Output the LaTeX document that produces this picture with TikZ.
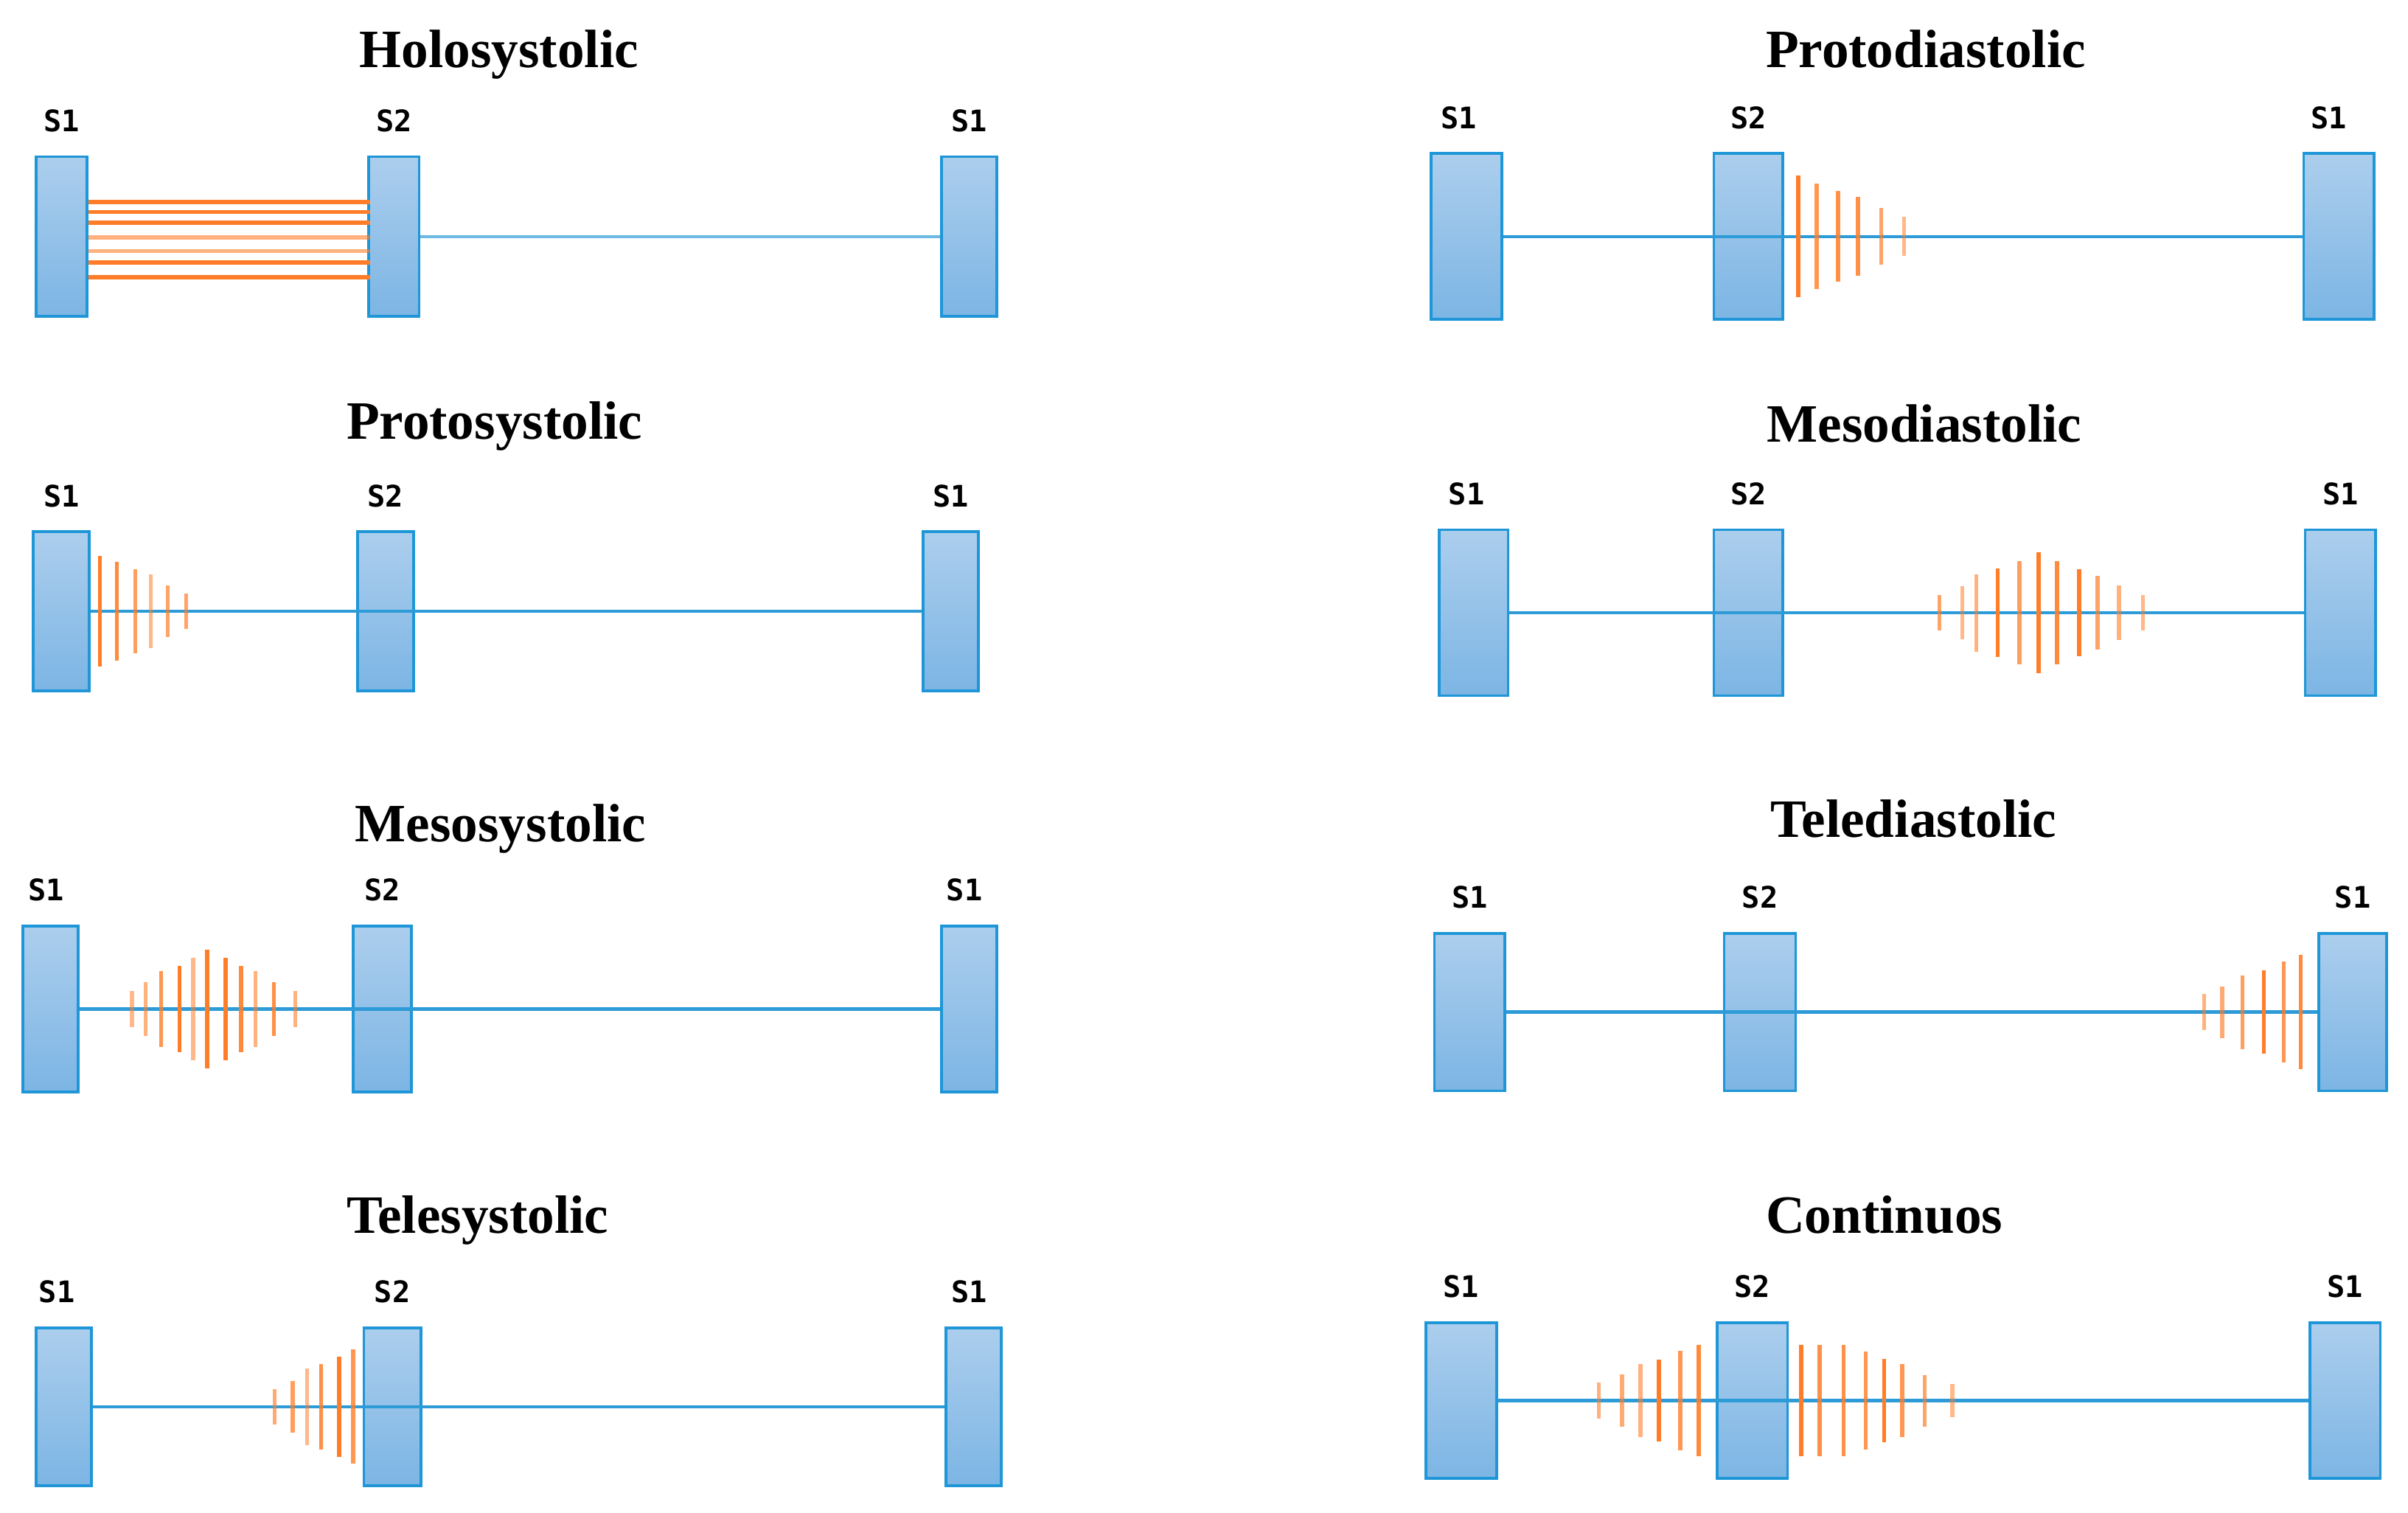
\documentclass[tikz,border=0pt]{standalone}
\usepackage{fontspec}
\setmainfont{Liberation Serif}
\newfontfamily\etiqfont{DejaVu Sans Mono}
\usetikzlibrary{positioning}
\definecolor{borde}{RGB}{30,150,215}
\definecolor{cajaarriba}{RGB}{172,206,237}
\definecolor{cajaabajo}{RGB}{124,181,228}
\definecolor{linea}{RGB}{45,155,215}
\definecolor{naranja}{RGB}{255,125,40}
\tikzset{
  tono/.style 2 args={draw=borde, line width=0.5pt, top color=cajaarriba, bottom color=cajaabajo, minimum width=#1, minimum height=#2, inner sep=0pt},
  etiq/.style={font=\etiqfont\bfseries\fontsize{5.5}{6}\selectfont, inner sep=0pt},
  titulo/.style={font=\bfseries\fontsize{10}{12}\selectfont, anchor=base, inner sep=0pt},
  eje/.style={linea, line width=0.6pt},
  soplo/.style={naranja, line width=0.75pt}
}
\begin{document}
\begin{tikzpicture}[x=0.1mm, y=-0.1mm, node distance=1.45mm]
    \useasboundingbox (0,0) rectangle (1568,984.7);

    % Holosystolic
    \node [titulo] (t-hs) at (325,44) {Holosystolic};
    \node [tono={3.3mm}{10.4mm}] (hs-a) at (40,154) {};
    \node [tono={3.3mm}{10.4mm}] (hs-b) at (256.5,154) {};
    \node [tono={3.6mm}{10.4mm}] (hs-c) at (631,154) {};
    \node [etiq, above=of hs-a] (hs-la) {S1};
    \node [etiq, above=of hs-b] (hs-lb) {S2};
    \node [etiq, above=of hs-c] (hs-lc) {S1};
    \draw [eje, opacity=0.7] (hs-b.east) -- (hs-c.west);
    \begin{scope}[shift={(hs-a.east)}]
      \foreach \y/\o in {-22.5/1, -16/1, -9/1, 0.5/0.6, 9.5/0.6, 17/1, 26.5/1}
        \draw [soplo, opacity=\o] (0,\y) -- (183.5,\y);
    \end{scope}

    % Protosystolic
    \node [titulo] (t-ps) at (322,286) {Protosystolic};
    \node [tono={3.65mm}{10.35mm}] (ps-a) at (40,398) {};
    \node [tono={3.65mm}{10.35mm}] (ps-b) at (251,398) {};
    \node [tono={3.6mm}{10.35mm}] (ps-c) at (619,398) {};
    \node [etiq, above=of ps-a] (ps-la) {S1};
    \node [etiq, above=of ps-b] (ps-lb) {S2};
    \node [etiq, above=of ps-c] (ps-lc) {S1};
    \draw [eje] (ps-a.east) -- (ps-c.west);
    \begin{scope}[shift={(ps-a.east)}]
      \foreach \x/\h/\o in {6/36/1, 17/32/0.9, 29/27.5/0.75, 39/24/0.55, 50/17/0.7, 62/11.5/0.7}
        \draw [soplo, opacity=\o] (\x,-\h) -- (\x,\h);
    \end{scope}

    % Mesosystolic
    \node [titulo] (t-ms) at (326,548) {Mesosystolic};
    \node [tono={3.6mm}{10.8mm}] (ms-a) at (33,657) {};
    \node [tono={3.8mm}{10.8mm}] (ms-b) at (249,657) {};
    \node [tono={3.6mm}{10.8mm}] (ms-c) at (631,657) {};
    \node [etiq, above=of ms-a, xshift=-0.3mm] (ms-la) {S1};
    \node [etiq, above=of ms-b] (ms-lb) {S2};
    \node [etiq, above=of ms-c, xshift=-0.3mm] (ms-lc) {S1};
    \draw [eje] (ms-a.east) -- (ms-c.west);
    \begin{scope}[shift={(ms-a.east)}]
      \foreach \x/\h/\o in {34/11.6/0.55, 43/17.6/0.6, 53/24.8/0.8, 65/28/1, 74/33.2/0.55, 83/38.8/1,
                            95/33.2/1, 105/28/0.9, 114.5/24.8/0.6, 126.5/17.6/0.85, 140.5/11.6/0.6}
        \draw [soplo, opacity=\o] (\x,-\h) -- (\x,\h);
    \end{scope}

    % Telesystolic
    \node [titulo] (t-ts) at (311,803) {Telesystolic};
    \node [tono={3.6mm}{10.3mm}] (ts-a) at (41.5,916) {};
    \node [tono={3.7mm}{10.3mm}] (ts-b) at (255.5,916) {};
    \node [tono={3.6mm}{10.3mm}] (ts-c) at (634,916) {};
    \node [etiq, above=of ts-a, xshift=-0.45mm] (ts-la) {S1};
    \node [etiq, above=of ts-b] (ts-lb) {S2};
    \node [etiq, above=of ts-c, xshift=-0.3mm] (ts-lc) {S1};
    \draw [eje] (ts-a.east) -- (ts-c.west);
    \begin{scope}[shift={(ts-b.west)}]
      \foreach \x/\h/\o in {-57.4/11.6/0.65, -45.6/16.8/0.75, -36.2/24.8/0.55, -27/27.8/0.85, -15.2/32.8/1, -6.2/37.2/0.8}
        \draw [soplo, opacity=\o] (\x,-\h) -- (\x,\h);
    \end{scope}

    % Protodiastolic
    \node [titulo] (t-pd) at (1254,44) {Protodiastolic};
    \node [tono={4.6mm}{10.8mm}] (pd-a) at (955,154) {};
    \node [tono={4.5mm}{10.8mm}] (pd-b) at (1138.5,154) {};
    \node [tono={4.6mm}{10.8mm}] (pd-c) at (1523,154) {};
    \node [etiq, above=of pd-a, xshift=-0.5mm] (pd-la) {S1};
    \node [etiq, above=of pd-b] (pd-lb) {S2};
    \node [etiq, above=of pd-c, xshift=-0.65mm] (pd-lc) {S1};
    \draw [eje] (pd-a.east) -- (pd-c.west);
    \begin{scope}[shift={(pd-b.east)}]
      \foreach \x/\h/\o in {9/39.5/1, 21/34.4/0.8, 35/29.6/0.85, 48/25.6/0.85, 63/18.4/0.7, 78/12.8/0.55}
        \draw [soplo, opacity=\o] (\x,-\h) -- (\x,\h);
    \end{scope}

    % Mesodiastolic
    \node [titulo] (t-md) at (1253,288) {Mesodiastolic};
    \node [tono={4.5mm}{10.8mm}] (md-a) at (959.5,399) {};
    \node [tono={4.5mm}{10.8mm}] (md-b) at (1138.5,399) {};
    \node [tono={4.6mm}{10.8mm}] (md-c) at (1524,399) {};
    \node [etiq, above=of md-a, xshift=-0.45mm] (md-la) {S1};
    \node [etiq, above=of md-b] (md-lb) {S2};
    \node [etiq, above=of md-c] (md-lc) {S1};
    \draw [eje] (md-a.east) -- (md-c.west);
    \begin{scope}[shift={(md-b.east)}]
      \foreach \x/\h/\o in {101/11.6/0.7, 116/17.2/0.55, 125/25.2/0.6, 139/28.8/1, 153/33.6/0.75, 165.5/39.2/1,
                            177.5/33.6/0.9, 192/28.4/1, 204/24/0.7, 218/17.6/0.6, 233.6/11.6/0.55}
        \draw [soplo, opacity=\o] (\x,-\h) -- (\x,\h);
    \end{scope}

    % Telediastolic
    \node [titulo] (t-td) at (1246,545) {Telediastolic};
    \node [tono={4.6mm}{10.25mm}] (td-a) at (957,659) {};
    \node [tono={4.65mm}{10.25mm}] (td-b) at (1146,659) {};
    \node [tono={4.4mm}{10.25mm}] (td-c) at (1532,659) {};
    \node [etiq, above=of td-a] (td-la) {S1};
    \node [etiq, above=of td-b] (td-lb) {S2};
    \node [etiq, above=of td-c] (td-lc) {S1};
    \draw [eje] (td-a.east) -- (td-c.west);
    \begin{scope}[shift={(td-c.west)}]
      \foreach \x/\h/\o in {-74/11.6/0.6, -62/16.8/0.65, -49/24/0.75, -35/27.2/1, -22/32.8/0.8, -11/37.2/0.9}
        \draw [soplo, opacity=\o] (\x,-\h) -- (\x,\h);
    \end{scope}

    % Continuos
    \node [titulo] (t-ct) at (1227,803) {Continuos};
    \node [tono={4.6mm}{10.15mm}] (ct-a) at (951.5,912) {};
    \node [tono={4.6mm}{10.15mm}] (ct-b) at (1141,912) {};
    \node [tono={4.6mm}{10.15mm}] (ct-c) at (1527,912) {};
    \node [etiq, above=of ct-a] (ct-la) {S1};
    \node [etiq, above=of ct-b] (ct-lb) {S2};
    \node [etiq, above=of ct-c] (ct-lc) {S1};
    \draw [eje] (ct-a.east) -- (ct-c.west);
    \begin{scope}[shift={(ct-b.west)}]
      \foreach \x/\h/\o in {-76/11.6/0.6, -61/17.2/0.65, -49/23.8/0.6, -37/26.8/1, -23/32.4/0.8, -11/36.4/0.9}
        \draw [soplo, opacity=\o] (\x,-\h) -- (\x,\h);
    \end{scope}
    \begin{scope}[shift={(ct-b.east)}]
      \foreach \x/\h/\o in {8/36.4/1, 20/36.4/0.85, 35.5/36.4/0.85, 50/32/0.8, 62/27.2/1, 73.7/23.8/0.8, 88.5/16.8/0.7, 106.5/10.8/0.55}
        \draw [soplo, opacity=\o] (\x,-\h) -- (\x,\h);
    \end{scope}

\end{tikzpicture}
\end{document}
